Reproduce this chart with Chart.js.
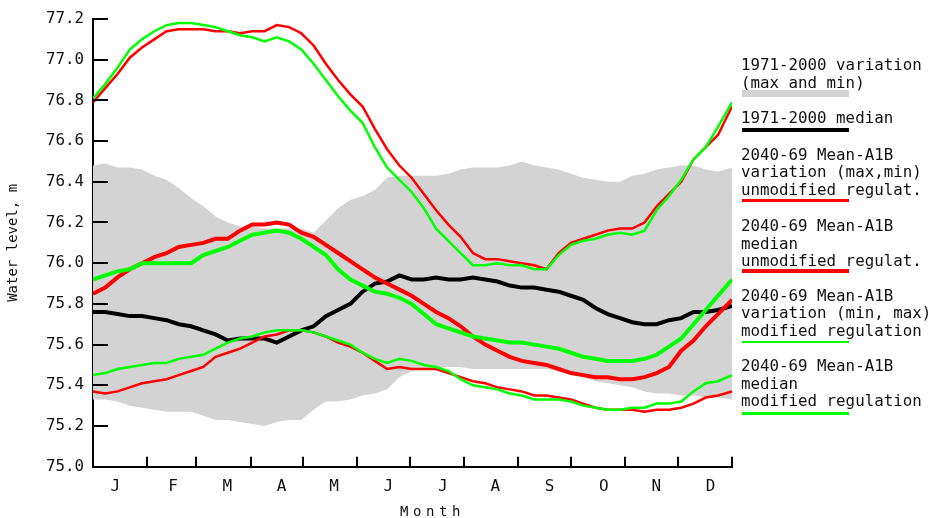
<!DOCTYPE html>
<html>
<head>
<meta charset="utf-8">
<title>Water level</title>
<script src="https://cdn.jsdelivr.net/npm/chart.js@4/dist/chart.umd.min.js"></script>
<style>
  html, body { margin: 0; padding: 0; background: #fff; }
  #wrap { position: relative; width: 939px; height: 518px; overflow: hidden; }
  #c { position: absolute; left: 0; top: 0; }
  .lg { position: absolute; left: 741px; font-family: 'DejaVu Sans Mono', monospace; font-size: 15.8px;
        line-height: 17.5px; white-space: pre; color: #111; }
  .bar { position: absolute; left: 742px; width: 107px; }
  #xtitle { position: absolute; left: 400px; top: 503.4px; font-family: 'DejaVu Sans Mono', monospace;
            font-size: 14px; line-height: 16px; letter-spacing: 4.6px; color: #111; white-space: pre; }
</style>
</head>
<body>
<div id="wrap">
  <canvas id="c" width="939" height="518"></canvas>

  <div class="lg" style="top:56px">1971-2000 variation
(max and min)</div>
  <div class="bar" style="top:90px;height:6.5px;background:#d3d3d3"></div>

  <div class="lg" style="top:109px">1971-2000 median</div>
  <div class="bar" style="top:128.3px;height:4px;background:#000"></div>

  <div class="lg" style="top:145.6px">2040-69 Mean-A1B
variation (max,min)
unmodified regulat.</div>
  <div class="bar" style="top:199.3px;height:2.5px;background:#ff0000"></div>

  <div class="lg" style="top:217.3px">2040-69 Mean-A1B
median
unmodified regulat.</div>
  <div class="bar" style="top:269.3px;height:4px;background:#ff0000"></div>

  <div class="lg" style="top:286.6px">2040-69 Mean-A1B
variation (min, max)
modified regulation</div>
  <div class="bar" style="top:340.7px;height:2.5px;background:#00ff00"></div>

  <div class="lg" style="top:357.3px">2040-69 Mean-A1B
median
modified regulation</div>
  <div class="bar" style="top:411.7px;height:3.5px;background:#00ff00"></div>

  <div id="xtitle">Month</div>
</div>

<script>
// Day of year for each sample
const days = [0,7,14,21,28,35,42,49,56,63,70,77,84,91,98,105,112,119,126,133,
              140,147,154,161,168,175,182,189,196,203,210,217,224,231,238,245,252,259,266,273,
              280,287,294,301,308,315,322,329,336,343,350,357,365];

// Month boundaries (tick marks) and month label positions
const monthStarts = [0,31,59,90,120,151,181,212,243,273,304,334,365];
const monthLabels = ['J','F','M','A','M','J','J','A','S','O','N','D'];
const monthLabelDays = [10,43,74,105,135,166,197,227,258,289,319,350];

// Water level ticks, m
const levelTicks = [75.0,75.2,75.4,75.6,75.8,76.0,76.2,76.4,76.6,76.8,77.0,77.2];

// 1971-2000 variation (max and min)
const base7100Max = [76.48,76.49,76.47,76.47,76.46,76.43,76.41,76.37,76.32,76.28,
                     76.23,76.20,76.18,76.18,76.17,76.17,76.17,76.17,76.15,76.21,
                     76.27,76.31,76.33,76.36,76.42,76.43,76.43,76.43,76.43,76.44,
                     76.46,76.47,76.47,76.47,76.48,76.50,76.48,76.47,76.46,76.44,
                     76.42,76.41,76.40,76.40,76.43,76.44,76.46,76.47,76.48,76.48,
                     76.46,76.45,76.47];
const base7100Min = [75.33,75.33,75.32,75.30,75.29,75.28,75.27,75.27,75.27,75.25,
                     75.23,75.23,75.22,75.21,75.20,75.22,75.23,75.23,75.28,75.32,
                     75.32,75.33,75.35,75.36,75.38,75.44,75.47,75.48,75.49,75.49,
                     75.49,75.48,75.48,75.48,75.48,75.48,75.48,75.48,75.47,75.46,
                     75.44,75.42,75.41,75.40,75.39,75.37,75.36,75.36,75.35,75.35,
                     75.34,75.34,75.33];
// 1971-2000 median
const base7100Median = [75.76,75.76,75.75,75.74,75.74,75.73,75.72,75.70,75.69,75.67,
                        75.65,75.62,75.63,75.63,75.63,75.61,75.64,75.67,75.69,75.74,
                        75.77,75.80,75.86,75.90,75.91,75.94,75.92,75.92,75.93,75.92,
                        75.92,75.93,75.92,75.91,75.89,75.88,75.88,75.87,75.86,75.84,
                        75.82,75.78,75.75,75.73,75.71,75.70,75.70,75.72,75.73,75.76,
                        75.76,75.77,75.79];

// 2040-69 Mean-A1B, unmodified regulation
const unmodMax = [76.79,76.86,76.93,77.01,77.06,77.10,77.14,77.15,77.15,77.15,
                  77.14,77.14,77.13,77.14,77.14,77.17,77.16,77.13,77.07,76.98,
                  76.90,76.83,76.77,76.66,76.56,76.48,76.42,76.34,76.26,76.19,
                  76.13,76.05,76.02,76.02,76.01,76.00,75.99,75.97,76.05,76.10,
                  76.12,76.14,76.16,76.17,76.17,76.20,76.28,76.34,76.40,76.51,
                  76.57,76.63,76.77];
const unmodMin = [75.37,75.36,75.37,75.39,75.41,75.42,75.43,75.45,75.47,75.49,
                  75.54,75.56,75.58,75.61,75.64,75.65,75.67,75.67,75.66,75.64,
                  75.61,75.59,75.56,75.52,75.48,75.49,75.48,75.48,75.48,75.46,
                  75.44,75.42,75.41,75.39,75.38,75.37,75.35,75.35,75.34,75.33,
                  75.31,75.29,75.28,75.28,75.28,75.27,75.28,75.28,75.29,75.31,
                  75.34,75.35,75.37];
const unmodMedian = [75.85,75.88,75.93,75.97,76.00,76.03,76.05,76.08,76.09,76.10,
                     76.12,76.12,76.16,76.19,76.19,76.20,76.19,76.15,76.13,76.09,
                     76.05,76.01,75.97,75.93,75.90,75.87,75.84,75.80,75.76,75.73,
                     75.69,75.64,75.60,75.57,75.54,75.52,75.51,75.50,75.48,75.46,
                     75.45,75.44,75.44,75.43,75.43,75.44,75.46,75.49,75.57,75.62,
                     75.69,75.75,75.82];

// 2040-69 Mean-A1B, modified regulation
const modMax = [76.81,76.88,76.96,77.05,77.10,77.14,77.17,77.18,77.18,77.17,
                77.16,77.14,77.12,77.11,77.09,77.11,77.09,77.05,76.98,76.90,
                76.82,76.75,76.69,76.57,76.47,76.41,76.35,76.27,76.17,76.11,
                76.05,75.99,75.99,76.00,75.99,75.99,75.97,75.97,76.04,76.09,
                76.11,76.12,76.14,76.15,76.14,76.16,76.26,76.33,76.41,76.51,
                76.57,76.67,76.79];
const modMin = [75.45,75.46,75.48,75.49,75.50,75.51,75.51,75.53,75.54,75.55,
                75.58,75.61,75.63,75.64,75.66,75.67,75.67,75.67,75.66,75.64,
                75.62,75.60,75.56,75.53,75.51,75.53,75.52,75.50,75.49,75.47,
                75.43,75.40,75.39,75.38,75.36,75.35,75.33,75.33,75.33,75.32,
                75.30,75.29,75.28,75.28,75.29,75.29,75.31,75.31,75.32,75.37,
                75.41,75.42,75.45];
const modMedian = [75.92,75.94,75.96,75.97,76.00,76.00,76.00,76.00,76.00,76.04,
                   76.06,76.08,76.11,76.14,76.15,76.16,76.15,76.12,76.08,76.04,
                   75.97,75.92,75.89,75.86,75.85,75.83,75.80,75.75,75.70,75.68,
                   75.66,75.64,75.63,75.62,75.61,75.61,75.60,75.59,75.58,75.56,
                   75.54,75.53,75.52,75.52,75.52,75.53,75.55,75.59,75.63,75.70,
                   75.77,75.84,75.92];

const RED = '#ff0000', GREEN = '#00ff00', GREY = '#d3d3d3';
const pts = arr => arr.map((v, i) => ({ x: days[i], y: v }));
const line = (label, arr, color, width, extra) => Object.assign({
  label, data: pts(arr), borderColor: color, borderWidth: width,
  pointRadius: 0, tension: 0, fill: false
}, extra || {});

// Inward-pointing tick marks on both axes
const inwardTicks = {
  id: 'inwardTicks',
  afterDatasetsDraw(chart) {
    const { ctx, chartArea: { left, bottom }, scales: { x, y } } = chart;
    ctx.save();
    ctx.strokeStyle = '#000';
    ctx.lineWidth = 2;
    ctx.beginPath();
    levelTicks.forEach(v => {
      const py = Math.round(y.getPixelForValue(v));
      ctx.moveTo(left, py); ctx.lineTo(left + 15, py);
    });
    monthStarts.forEach(d => {
      const px = Math.round(x.getPixelForValue(d));
      ctx.moveTo(px, bottom); ctx.lineTo(px, bottom - 10);
    });
    ctx.stroke();
    ctx.restore();
  }
};

const tickFont = { family: "'DejaVu Sans Mono', monospace", size: 15.8 };

new Chart(document.getElementById('c'), {
  type: 'line',
  data: {
    datasets: [
      // first listed is drawn on top
      line('2040-69 Mean-A1B median, modified regulation', modMedian, GREEN, 4),
      line('2040-69 Mean-A1B median, unmodified regulat.', unmodMedian, RED, 4),
      line('2040-69 Mean-A1B max, modified regulation', modMax, GREEN, 2.5),
      line('2040-69 Mean-A1B min, modified regulation', modMin, GREEN, 2.5),
      line('2040-69 Mean-A1B max, unmodified regulat.', unmodMax, RED, 2.5),
      line('2040-69 Mean-A1B min, unmodified regulat.', unmodMin, RED, 2.5),
      line('1971-2000 median', base7100Median, '#000', 4),
      line('1971-2000 max', base7100Max, GREY, 0, { fill: '+1', backgroundColor: GREY }),
      line('1971-2000 min', base7100Min, GREY, 0)
    ]
  },
  options: {
    responsive: false,
    animation: false,
    events: [],
    layout: { padding: { left: 0, top: 19, right: 207, bottom: 0 } },
    plugins: {
      legend: { display: false },
      tooltip: { enabled: false },
      filler: { drawTime: 'beforeDatasetsDraw' }
    },
    scales: {
      x: {
        type: 'linear',
        min: 0,
        max: 365,
        grid: { display: false, drawTicks: false },
        border: { display: true, color: '#000', width: 2 },
        afterBuildTicks: s => { s.ticks = monthLabelDays.map(v => ({ value: v })); },
        afterFit: s => { s.height = 51.3; },
        ticks: {
          autoSkip: false, maxRotation: 0, minRotation: 0,
          align: 'start', padding: 11,
          color: '#111',
          font: { family: "'DejaVu Sans Mono', monospace", size: 16 },
          callback: (v, i) => monthLabels[i]
        }
      },
      y: {
        type: 'linear',
        min: 75.0,
        max: 77.2,
        grid: { display: false, drawTicks: false },
        border: { display: true, color: '#000', width: 2 },
        afterBuildTicks: s => { s.ticks = levelTicks.map(v => ({ value: v })); },
        afterFit: s => { s.width = 93; },
        ticks: {
          padding: 9,
          color: '#111',
          font: tickFont,
          callback: v => v.toFixed(1)
        },
        title: {
          display: true,
          text: 'Water level, m',
          color: '#111',
          font: { family: "'DejaVu Sans Mono', monospace", size: 14 },
          padding: { top: 4.9, bottom: 0 }
        }
      }
    }
  },
  plugins: [inwardTicks]
});
</script>
</body>
</html>
